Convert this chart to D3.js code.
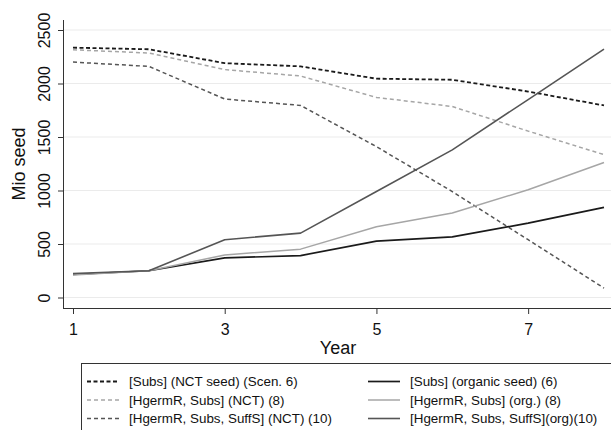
<!DOCTYPE html>
<html>
  <head>
    <meta charset="utf-8" />
    <title>Mio seed by year</title>
    <script src="https://cdn.jsdelivr.net/npm/d3@7"></script>
    <style>
      body {
        margin: 0;
        background: #fff;
      }
      svg {
        display: block;
        font-family: "Liberation Sans", Arial, sans-serif;
      }
    </style>
  </head>
  <body>
    <svg id="chart" width="611" height="430"></svg>
    <script>
      const years = [1, 2, 3, 4, 5, 6, 7, 8];
      const xTicks = [1, 3, 5, 7];
      const yTicks = [0, 500, 1000, 1500, 2000, 2500];

      const labels = [
        "[Subs] (NCT seed) (Scen. 6)",
        "[HgermR, Subs] (NCT) (8)",
        "[HgermR, Subs, SuffS] (NCT) (10)",
        "[Subs] (organic seed) (6)",
        "[HgermR, Subs] (org.) (8)",
        "[HgermR, Subs, SuffS](org)(10)"
      ];

      const subsNct = [2335, 2320, 2190, 2160, 2045, 2035, 1925, 1795];
      const hgermNct = [2315, 2285, 2130, 2070, 1870, 1785, 1555, 1335];
      const suffNct = [2200, 2160, 1855, 1795, 1410, 990, 540, 88];
      const subsOrg = [215, 250, 370, 392, 527, 567, 695, 842];
      const hgermOrg = [210, 250, 398, 452, 661, 789, 1007, 1262];
      const suffOrg = [225, 250, 540, 602, 991, 1380, 1850, 2322];

      const seriesValues = [subsNct, hgermNct, suffNct, subsOrg, hgermOrg, suffOrg];
      const colors = ["#1a1a1a", "#a6a6a6", "#555555", "#1a1a1a", "#a6a6a6", "#555555"];
      const dashes = ["4,2.5", "4,3", "4,3", null, null, null];
      const widths = [1.8, 1.5, 1.5, 1.7, 1.5, 1.6];

      const svg = d3.select("#chart");

      const x = d3.scaleLinear().domain([1, 8]).range([73, 604]);
      const y = d3.scaleLinear().domain([0, 2500]).range([297.5, 30]);

      // grid lines
      svg
        .append("g")
        .selectAll("line")
        .data(yTicks)
        .join("line")
        .attr("x1", 63)
        .attr("x2", 611)
        .attr("y1", (d) => y(d))
        .attr("y2", (d) => y(d))
        .attr("stroke", "#ebebeb")
        .attr("stroke-width", 1);

      // y axis
      const yAxis = svg
        .append("g")
        .attr("transform", "translate(63,0)")
        .call(
          d3
            .axisLeft(y)
            .tickValues(yTicks)
            .tickFormat(d3.format("d"))
            .tickSize(5)
            .tickSizeOuter(0)
        );
      yAxis.select(".domain").attr("d", "M0.5,20V308.5").attr("stroke", "#333");
      yAxis.selectAll(".tick line").attr("stroke", "#333");
      yAxis
        .selectAll(".tick text")
        .attr("x", 0)
        .attr("dy", 0)
        .attr("transform", "translate(-13,0) rotate(-90)")
        .attr("text-anchor", "middle")
        .attr("font-size", 16)
        .attr("fill", "#111")
        .attr("font-family", "'Liberation Sans', Arial, sans-serif");

      // x axis
      const xAxis = svg
        .append("g")
        .attr("transform", "translate(0,308)")
        .call(
          d3
            .axisBottom(x)
            .tickValues(xTicks)
            .tickFormat(d3.format("d"))
            .tickSize(6)
            .tickSizeOuter(0)
        );
      xAxis.select(".domain").attr("d", "M63,0.5H611").attr("stroke", "#333");
      xAxis.selectAll(".tick line").attr("stroke", "#333");
      xAxis
        .selectAll(".tick text")
        .attr("y", 0)
        .attr("dy", 0)
        .attr("transform", "translate(0,27)")
        .attr("font-size", 16)
        .attr("fill", "#111")
        .attr("font-family", "'Liberation Sans', Arial, sans-serif");

      svg
        .append("text")
        .attr("x", 338)
        .attr("y", 354)
        .attr("text-anchor", "middle")
        .attr("font-size", 18)
        .attr("fill", "#111")
        .text("Year");

      svg
        .append("text")
        .attr("transform", "translate(25,164) rotate(-90)")
        .attr("text-anchor", "middle")
        .attr("font-size", 18)
        .attr("fill", "#111")
        .text("Mio seed");

      // lines
      const line = d3
        .line()
        .x((d, i) => x(years[i]))
        .y((d) => y(d));

      svg
        .append("g")
        .selectAll("path")
        .data(seriesValues)
        .join("path")
        .attr("d", line)
        .attr("fill", "none")
        .attr("stroke", (d, i) => colors[i])
        .attr("stroke-width", (d, i) => widths[i])
        .attr("stroke-dasharray", (d, i) => dashes[i])
        .attr("stroke-linejoin", "round");

      // legend
      const legend = svg.append("g");
      legend
        .append("rect")
        .attr("x", 81.5)
        .attr("y", 363.5)
        .attr("width", 560)
        .attr("height", 90)
        .attr("fill", "#fff")
        .attr("stroke", "#333")
        .attr("stroke-width", 1);

      const rowY = [381.5, 400, 418.5];
      const items = legend
        .selectAll("g.item")
        .data(labels)
        .join("g")
        .attr("class", "item")
        .attr("transform", (d, i) => {
          const col = i < 3 ? 0 : 1;
          const row = i % 3;
          return "translate(" + (col === 0 ? 87 : 368) + "," + rowY[row] + ")";
        });

      items
        .append("line")
        .attr("x1", 0)
        .attr("x2", 32)
        .attr("y1", 0)
        .attr("y2", 0)
        .attr("stroke", (d, i) => colors[i])
        .attr("stroke-width", (d, i) => widths[i])
        .attr("stroke-dasharray", (d, i) => dashes[i]);

      items
        .append("text")
        .attr("x", 42)
        .attr("y", 0)
        .attr("dy", "0.35em")
        .attr("font-size", 13.4)
        .attr("fill", "#111")
        .text((d) => d);
    </script>
  </body>
</html>
